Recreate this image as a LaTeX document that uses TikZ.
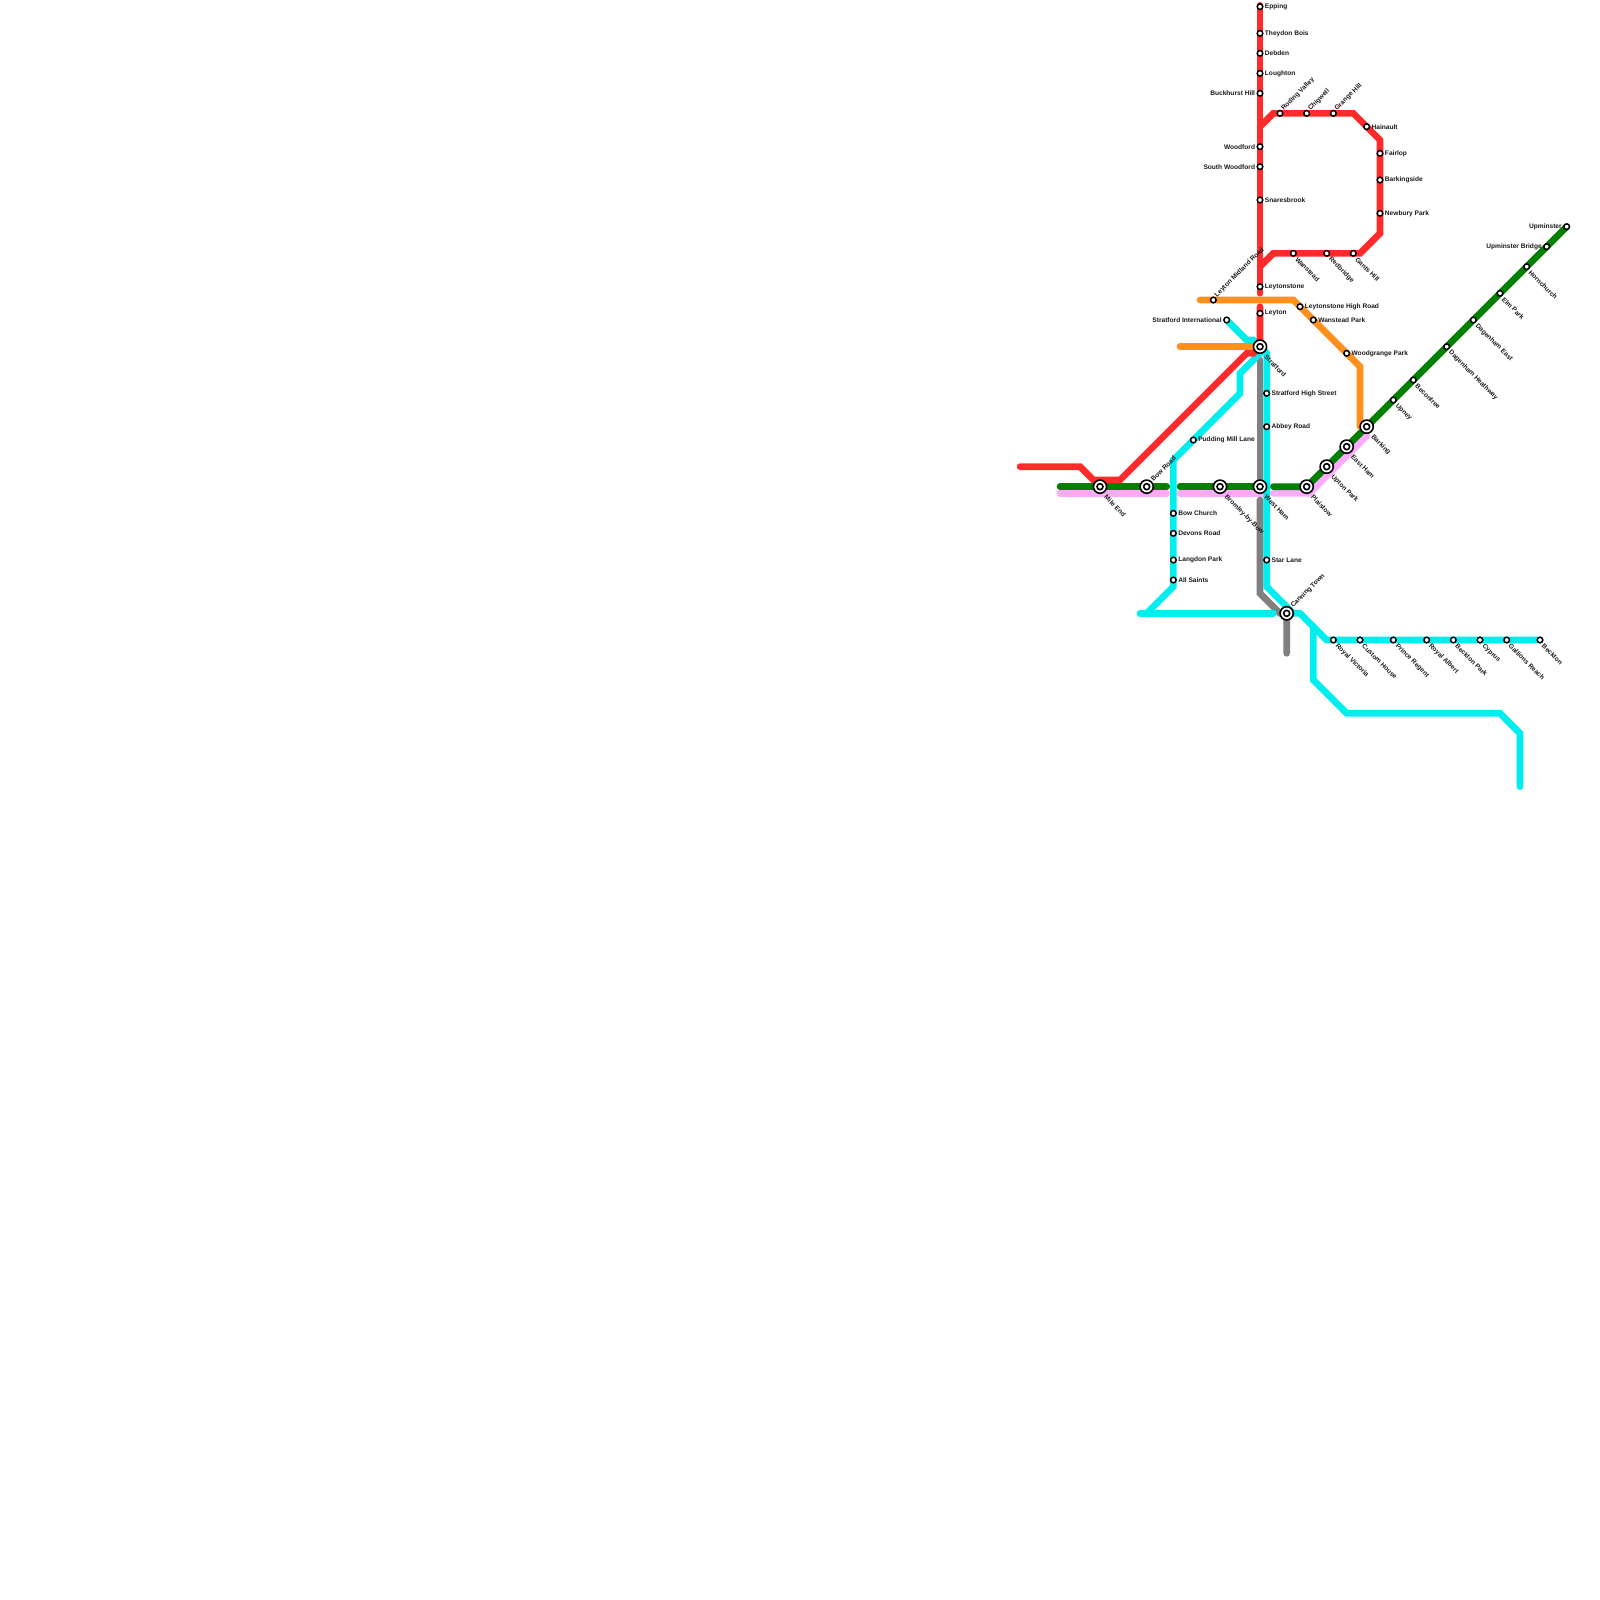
\documentclass[tikz,border=0pt]{standalone}
\usepackage{fontspec}
\setmainfont{Liberation Sans}
\usetikzlibrary{backgrounds}
\definecolor{centralred}{HTML}{FF2A2A}
\definecolor{overgroundorange}{HTML}{FF9020}
\definecolor{dlrcyan}{HTML}{00EEEE}
\definecolor{districtgreen}{HTML}{007F00}
\definecolor{hcpink}{HTML}{FFAAFF}
\definecolor{jubileegrey}{HTML}{808080}
\tikzset{
  route/.style={line width=6.667pt,line cap=round},
  stn/.style={circle,draw=black,fill=white,line width=1.5pt,minimum size=5.6pt,inner sep=0pt},
  xchg/.style={circle,draw=black,fill=white,line width=1.6pt,minimum size=13.2pt,inner sep=0pt,
    path picture={\draw[line width=1.6pt] (path picture bounding box.center) circle (3pt);}},
  lbltxt/.style={font=\fontsize{6.6}{8}\selectfont\bfseries,inner sep=0pt,text=black!90},
  lble/.style={lbltxt,anchor=west},
  lblw/.style={lbltxt,anchor=east},
  lblne/.style={lbltxt,rotate=45,anchor=west},
  lblse/.style={lbltxt,rotate=-45,anchor=west,xshift=1.2pt,yshift=-0.5pt},
  lblsx/.style={lbltxt,rotate=-45,anchor=west,xshift=2.2pt,yshift=-2pt}
}
\begin{document}
\begin{tikzpicture}[x=6.6667pt,y=-6.6667pt,label distance=1.2pt]
\useasboundingbox (0,0) rectangle (240,240);
% central line stations
\node[stn,label={[lble]0:Epping}] (epping) at (189,1) {};
\node[stn,label={[lble]0:Theydon Bois}] (theydon) at (189,5) {};
\node[stn,label={[lble]0:Debden}] (debden) at (189,8) {};
\node[stn,label={[lble]0:Loughton}] (loughton) at (189,11) {};
\node[stn,label={[lblw]180:Buckhurst Hill}] (buckhurst) at (189,14) {};
\node[stn,label={[lblw]180:Woodford}] (woodford) at (189,22) {};
\node[stn,label={[lblw]180:South Woodford}] (swoodford) at (189,25) {};
\node[stn,label={[lble]0:Snaresbrook}] (snaresbrook) at (189,30) {};
\node[stn,label={[lble]0:Leytonstone}] (leytonstone) at (189,43) {};
\node[stn,label={[lble]0:Leyton}] (leyton) at (189,47) {};
\node[stn,label={[lblne]45:Roding Valley}] (roding) at (192,17) {};
\node[stn,label={[lblne]45:Chigwell}] (chigwell) at (196,17) {};
\node[stn,label={[lblne]45:Grange Hill}] (grange) at (200,17) {};
\node[stn,label={[lble]0:Hainault}] (hainault) at (205,19) {};
\node[stn,label={[lble]0:Fairlop}] (fairlop) at (207,23) {};
\node[stn,label={[lble]0:Barkingside}] (barkingside) at (207,27) {};
\node[stn,label={[lble]0:Newbury Park}] (newbury) at (207,32) {};
\node[stn,label={[lblse]-45:Gants Hill}] (gants) at (203,38) {};
\node[stn,label={[lblse]-45:Redbridge}] (redbridge) at (199,38) {};
\node[stn,label={[lblse]-45:Wanstead}] (wanstead) at (194,38) {};
% overground stations
\node[stn,label={[lblne]45:Leyton Midland Road}] (midland) at (182,45) {};
\node[stn,label={[lble]0:Leytonstone High Road}] (highroad) at (195,46) {};
\node[stn,label={[lble]0:Wanstead Park}] (wanpark) at (197,48) {};
\node[stn,label={[lble]0:Woodgrange Park}] (woodgrange) at (202,53) {};
% interchanges
\node[xchg,label={[lblsx]-45:Stratford}] (stratford) at (189,52) {};
\node[xchg,label={[lblsx]-45:Mile End}] (mileend) at (165,73) {};
\node[xchg,label={[lblne]45:Bow Road}] (bowroad) at (172,73) {};
\node[xchg,label={[lblsx]-45:Bromley-by-Bow}] (bromley) at (183,73) {};
\node[xchg,label={[lblsx]-45:West Ham}] (westham) at (189,73) {};
\node[xchg,label={[lblsx]-45:Plaistow}] (plaistow) at (196,73) {};
\node[xchg,label={[lblsx]-45:Upton Park}] (upton) at (199,70) {};
\node[xchg,label={[lblsx]-45:East Ham}] (eastham) at (202,67) {};
\node[xchg,label={[lblsx]-45:Barking}] (barking) at (205,64) {};
\node[xchg,label={[lblne]45:Canning Town}] (canning) at (193,92) {};
% dlr stations
\node[stn,label={[lblw]180:Stratford International}] (intl) at (184,48) {};
\node[stn,label={[lble]0:Stratford High Street}] (highst) at (190,59) {};
\node[stn,label={[lble]0:Abbey Road}] (abbey) at (190,64) {};
\node[stn,label={[lble]0:Star Lane}] (starlane) at (190,84) {};
\node[stn,label={[lble]0:Pudding Mill Lane}] (pudding) at (179,66) {};
\node[stn,label={[lble]0:Bow Church}] (bowchurch) at (176,77) {};
\node[stn,label={[lble]0:Devons Road}] (devons) at (176,80) {};
\node[stn,label={[lble]0:Langdon Park}] (langdon) at (176,84) {};
\node[stn,label={[lble]0:All Saints}] (allsaints) at (176,87) {};
\node[stn,label={[lblse]-45:Royal Victoria}] (victoria) at (200,96) {};
\node[stn,label={[lblse]-45:Custom House}] (custom) at (204,96) {};
\node[stn,label={[lblse]-45:Prince Regent}] (regent) at (209,96) {};
\node[stn,label={[lblse]-45:Royal Albert}] (albert) at (214,96) {};
\node[stn,label={[lblse]-45:Beckton Park}] (becktonpark) at (218,96) {};
\node[stn,label={[lblse]-45:Cyprus}] (cyprus) at (222,96) {};
\node[stn,label={[lblse]-45:Gallions Reach}] (gallions) at (226,96) {};
\node[stn,label={[lblse]-45:Beckton}] (beckton) at (231,96) {};
% district stations
\node[stn,label={[lblse]-45:Upney}] (upney) at (209,60) {};
\node[stn,label={[lblse]-45:Becontree}] (becontree) at (212,57) {};
\node[stn,label={[lblse]-45:Dagenham Heathway}] (heathway) at (217,52) {};
\node[stn,label={[lblse]-45:Dagenham East}] (dageast) at (221,48) {};
\node[stn,label={[lblse]-45:Elm Park}] (elmpark) at (225,44) {};
\node[stn,label={[lblse]-45:Hornchurch}] (hornchurch) at (229,40) {};
\node[stn,label={[lblw]180:Upminster Bridge}] (upbridge) at (232,37) {};
\node[stn,label={[lblw]180:Upminster}] (upminster) at (235,34) {};
% bends and free ends
\coordinate (redtop) at (189,0.8);
\coordinate (redend) at (189,44);
\coordinate (leytontop) at (189,46);
\coordinate (loopa) at (189,19);
\coordinate (loopb) at (191,17);
\coordinate (loopc) at (203,17);
\coordinate (loopd) at (207,21);
\coordinate (loope) at (207,35);
\coordinate (loopf) at (204,38);
\coordinate (loopg) at (191,38);
\coordinate (looph) at (189,40);
\coordinate (redwest) at (153,70);
\coordinate (redb) at (162,70);
\coordinate (redc) at (164,72);
\coordinate (redd) at (168,72);
\coordinate (rede) at (187,53);
\coordinate (redf) at (188,53);
\coordinate (orwest) at (180,45);
\coordinate (ora) at (194,45);
\coordinate (orb) at (204,55);
\coordinate (orc) at (204,64);
\coordinate (orstrat) at (177,52);
\coordinate (intla) at (187,51);
\coordinate (intlb) at (188,51);
\coordinate (cya) at (189,53);
\coordinate (cyb) at (186,56);
\coordinate (cyc) at (186,59);
\coordinate (cyd) at (176,69);
\coordinate (cye) at (176,88);
\coordinate (cyf) at (172,92);
\coordinate (cywest) at (171,92);
\coordinate (cyeast) at (191,92);
\coordinate (sta) at (190,53);
\coordinate (stb) at (190,88);
\coordinate (stc) at (194,92);
\coordinate (stk) at (195,92);
\coordinate (std) at (199,96);
\coordinate (brancha) at (197,94);
\coordinate (branchb) at (197,102);
\coordinate (branchc) at (202,107);
\coordinate (branchd) at (225,107);
\coordinate (branche) at (228,110);
\coordinate (branchf) at (228,118);
\coordinate (greya) at (189,54);
\coordinate (greyb) at (189,75);
\coordinate (greyc) at (189,89);
\coordinate (greyd) at (192,92);
\coordinate (greye) at (193,98);
\coordinate (greena) at (159,73);
\coordinate (greenb) at (175,73);
\coordinate (greenc) at (177,73);
\coordinate (greend) at (191,73);
\coordinate (pinka) at (159,74);
\coordinate (pinkb) at (175,74);
\coordinate (pinkc) at (177,74);
\coordinate (pinkd) at (190,74);
\coordinate (pinke) at (191,74);
\coordinate (pinkf) at (196.4,74);
\coordinate (pinkg) at (205,65.4);
\begin{scope}[on background layer]
\draw[route,jubileegrey] (greya) -- (westham.center);
\draw[route,hcpink] (pinka) -- (pinkb);
\draw[route,hcpink] (pinkc) -- (pinkd);
\draw[route,hcpink] (pinke) -- (pinkf) -- (pinkg);
\draw[route,jubileegrey] (greyb) -- (greyc) -- (greyd) -- (canning.center) -- (greye);
\draw[route,districtgreen] (greena) -- (greenb);
\draw[route,districtgreen] (greenc) -- (westham.center);
\draw[route,districtgreen] (greend) -- (plaistow.center) -- (upminster.center);
\draw[route,dlrcyan] (intl.center) -- (intla) -- (intlb) -- (stratford.center) -- (cya) -- (cyb) -- (cyc) -- (cyd) -- (cye) -- (cyf);
\draw[route,dlrcyan] (cywest) -- (cyeast);
\draw[route,dlrcyan] (stratford.center) -- (sta) -- (stb) -- (stc) -- (stk) -- (std) -- (beckton.center);
\draw[route,dlrcyan] (brancha) -- (branchb) -- (branchc) -- (branchd) -- (branche) -- (branchf);
\draw[route,centralred] (redtop) -- (redend);
\draw[route,centralred] (leytontop) -- (stratford.center) -- (redf) -- (rede) -- (redd) -- (redc) -- (redb) -- (redwest);
\draw[route,centralred] (loopa) -- (loopb) -- (loopc) -- (loopd) -- (loope) -- (loopf) -- (loopg) -- (looph);
\draw[route,overgroundorange] (orwest) -- (ora) -- (orb) -- (orc);
\draw[route,overgroundorange] (orstrat) -- (stratford.center);
\end{scope}
\end{tikzpicture}
\end{document}
